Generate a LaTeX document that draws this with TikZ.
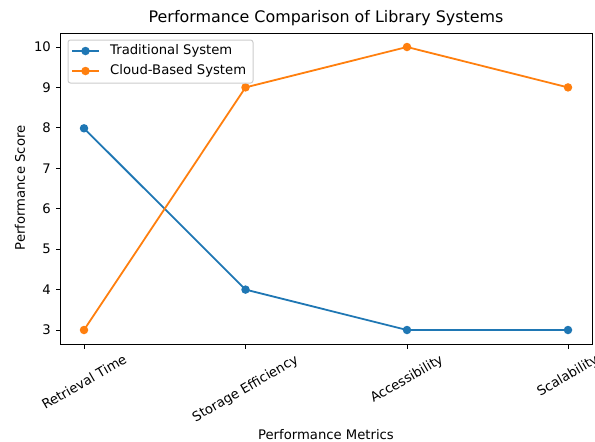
\documentclass[tikz,border=0pt]{standalone}
\usepackage{fontspec}
\setmainfont{DejaVu Sans}
\usepackage{graphicx}
\usetikzlibrary{positioning,calc}
\definecolor{tabblue}{HTML}{1F77B4}
\definecolor{taborange}{HTML}{FF7F0E}
\tikzstyle{axisframe} = [draw=black, line width=1pt]
\tikzstyle{axtick} = [draw=black, line width=1pt]
\tikzstyle{ticklabel} = [inner sep=0pt, font=\fontsize{13.2}{15}\selectfont]
\tikzstyle{axislabel} = [inner sep=0pt, font=\fontsize{13.2}{15}\selectfont]
\tikzstyle{titlelabel} = [inner sep=0pt, font=\fontsize{15.9}{18}\selectfont]
\tikzstyle{blueline} = [draw=tabblue, line width=1.8pt]
\tikzstyle{orangeline} = [draw=taborange, line width=1.8pt]
\tikzstyle{bluedot} = [circle, fill=tabblue, inner sep=0pt, minimum size=8.5pt]
\tikzstyle{orangedot} = [circle, fill=taborange, inner sep=0pt, minimum size=8.5pt]
\tikzstyle{legendbox} = [rectangle, rounded corners=2.5pt, draw=black!20, fill=white, fill opacity=0.8, line width=1pt, minimum width=185pt, minimum height=43pt, inner sep=0pt]
\tikzstyle{legendtext} = [anchor=west, inner sep=0pt, font=\fontsize{13.2}{15}\selectfont]

\begin{document}
\begin{tikzpicture}[x=1pt, y=-1pt]
\useasboundingbox (0,0) rectangle (595,442);

% data points
\coordinate (t1) at (84,128.3);
\coordinate (t2) at (245.5,289.6);
\coordinate (t3) at (407,330);
\coordinate (t4) at (568,330);
\coordinate (c1) at (84,330);
\coordinate (c2) at (245.5,87.4);
\coordinate (c3) at (407,47);
\coordinate (c4) at (568,87.4);

% traditional system
\draw [blueline] (t1) -- (t2) -- (t3) -- (t4);
\node (tm1) [bluedot] at (t1) {};
\node (tm2) [bluedot] at (t2) {};
\node (tm3) [bluedot] at (t3) {};
\node (tm4) [bluedot] at (t4) {};

% cloud-based system
\draw [orangeline] (c1) -- (c2) -- (c3) -- (c4);
\node (cm1) [orangedot] at (c1) {};
\node (cm2) [orangedot] at (c2) {};
\node (cm3) [orangedot] at (c3) {};
\node (cm4) [orangedot] at (c4) {};

% axes
\draw [axisframe] (60,33) rectangle (592,344);
\foreach \v/\y in {3/330,4/289.6,5/249.2,6/208.7,7/168.3,8/127.9,9/87.4,10/47}{
  \draw [axtick] (60,\y) -- (55.5,\y);
  \node [ticklabel, anchor=east] at (51,\y) {\v};
}
\foreach \x/\lab in {84/Retrieval Time,245.5/Storage Efficiency,407/Accessibility,568/Scalability}{
  \draw [axtick] (\x,344) -- (\x,348.5);
  \node [ticklabel, anchor=north] at (\x,353.5) {\rotatebox{30}{\lab}};
}

\node (title) [titlelabel] at (326,18) {Performance Comparison of Library Systems};
\node (ylab) [axislabel, rotate=90] at (20,188) {Performance Score};
\node (xlab) [axislabel] at (326,434.5) {Performance Metrics};

% legend
\node (legend) [legendbox] at (160.5,61.5) {};
\coordinate (lb1) at (72,51);
\coordinate (lb2) at (99,51);
\coordinate (lo1) at (72,71);
\coordinate (lo2) at (99,71);
\draw [blueline] (lb1) -- (lb2);
\node (lbm) [bluedot] at ($(lb1)!0.5!(lb2)$) {};
\node (lbt) [legendtext] at (110,51) {Traditional System};
\draw [orangeline] (lo1) -- (lo2);
\node (lom) [orangedot] at ($(lo1)!0.5!(lo2)$) {};
\node (lot) [legendtext] at (110,71) {Cloud-Based System};
\end{tikzpicture}
\end{document}
